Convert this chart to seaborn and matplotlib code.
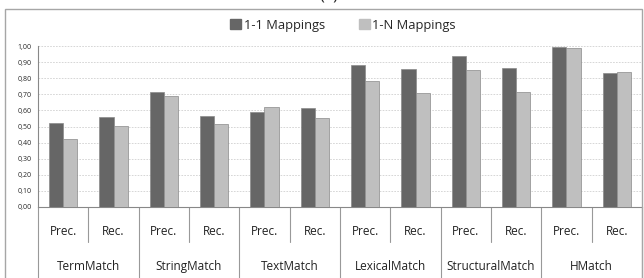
import matplotlib
matplotlib.use("Agg")
import matplotlib.pyplot as plt
from matplotlib.patches import Rectangle, Patch
from matplotlib.lines import Line2D
import seaborn as sns
import pandas as pd

# data
matchers = ["TermMatch", "StringMatch", "TextMatch", "LexicalMatch", "StructuralMatch", "HMatch"]
measures = ["Prec.", "Rec."]
one_to_one = [0.52, 0.557, 0.712, 0.565, 0.591, 0.612, 0.882, 0.855, 0.938, 0.866, 0.992, 0.83]
one_to_n = [0.42, 0.505, 0.69, 0.517, 0.62, 0.552, 0.781, 0.711, 0.849, 0.715, 0.99, 0.839]
series = ["1-1 Mappings", "1-N Mappings"]
yticks = [0.0, 0.1, 0.2, 0.3, 0.4, 0.5, 0.6, 0.7, 0.8, 0.9, 1.0]

dark = "#666666"
light = "#bfbfbf"

slots = [m + "|" + s for m in matchers for s in measures]
df = pd.DataFrame({
    "slot": slots * 2,
    "value": one_to_one + one_to_n,
    "series": [series[0]] * len(slots) + [series[1]] * len(slots),
})

sns.set_style("white")
plt.rcParams["font.family"] = ["Open Sans", "DejaVu Sans"]

fig = plt.figure(figsize=(6.44, 2.78), dpi=100)
ax = fig.add_axes([38 / 644, 1 - 207 / 278, 604 / 644, 161 / 278])

sns.barplot(data=df, x="slot", y="value", hue="series", order=slots,
            palette=[dark, light], width=0.56, ax=ax, legend=False,
            edgecolor="#8a8a8a", linewidth=0.5, zorder=3)

ax.set_ylim(0, 1.0)
ax.set_xlim(-0.5, len(slots) - 0.5)
ax.set_yticks(yticks)
ax.set_yticklabels([f"{v:.2f}".replace(".", ",") for v in yticks], fontsize=5)
ax.tick_params(axis="y", length=2.5, width=0.6, color="#888888", pad=2)
ax.set_xticks([])
ax.set_xlabel("")
ax.set_ylabel("")
for y in yticks[1:]:
    ax.axhline(y, color="#d0d0d0", lw=0.6, ls=(0, (2, 1.5)), zorder=1)
for side in ["top", "right"]:
    ax.spines[side].set_visible(False)
ax.spines["left"].set_color("#888888")
ax.spines["bottom"].set_color("#888888")
ax.spines["left"].set_linewidth(0.8)
ax.spines["bottom"].set_linewidth(0.8)

# two-level category axis
trans = ax.get_xaxis_transform()
for i, s in enumerate(slots):
    ax.text(i, -0.155, s.split("|")[1], transform=trans, ha="center", va="center",
            fontsize=8.5, color="#222222")
for g, m in enumerate(matchers):
    ax.text(2 * g + 0.5, -0.37, m, transform=trans, ha="center", va="center",
            fontsize=8.5, color="#222222")
for i in range(len(slots) + 1):
    x = i - 0.5
    low = -0.45 if i % 2 == 0 else -0.22
    ax.add_line(Line2D([x, x], [0, low], transform=trans, color="#999999",
                       lw=0.8, clip_on=False))

# legend
handles = [Patch(facecolor=dark, edgecolor=dark), Patch(facecolor=light, edgecolor=light)]
fig.legend(handles, series, loc="center", bbox_to_anchor=(343 / 644, 1 - 25 / 278), ncol=2,
           frameon=False, fontsize=9.3, handlelength=0.85, handleheight=0.85,
           handletextpad=0.2, columnspacing=2.6)

# outer frame and clipped caption
fig.patches.append(Rectangle((5 / 644, -0.02), 637 / 644, 1 - 9 / 278 + 0.02,
                             transform=fig.transFigure, fill=False,
                             edgecolor="#a6a6a6", lw=1.0))
fig.text(329 / 644, 1.015, "(a)", ha="center", va="center", fontsize=12)

fig.savefig("out.png", dpi=100)
